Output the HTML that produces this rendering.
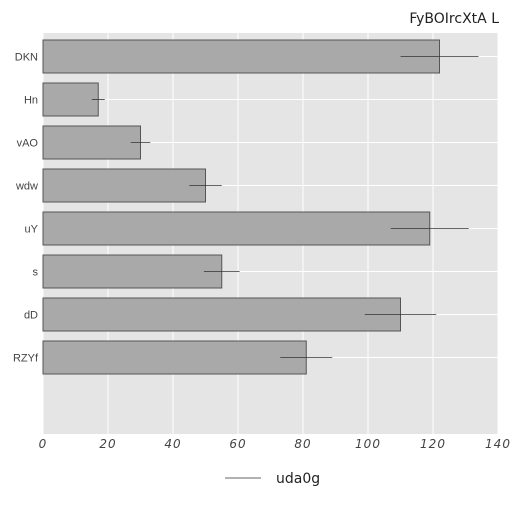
<!DOCTYPE html>
<html><head><meta charset="utf-8"><style>
body{margin:0;background:#fff;font-family:"Liberation Sans","DejaVu Sans",sans-serif}
</style></head><body>
<svg id="c" width="525" height="525" xmlns="http://www.w3.org/2000/svg">
<text x="499" y="23" text-anchor="end" font-size="14" fill="#222" font-family="DejaVu Sans, sans-serif">FyBOIrcXtA L</text>
<rect x="43" y="33" width="455" height="401" fill="#e5e5e5"/>
<g id="grid"></g><g id="bars"></g><g id="ticks"></g>
<line x1="225" y1="478" x2="261" y2="478" stroke="#333" stroke-width="0.8"/>
<text x="276" y="483" font-size="14" fill="#222" font-family="DejaVu Sans, sans-serif">uda0g</text>
</svg>
<script>
const categories=["DKN","Hn","vAO","wdw","uY","s","dD","RZYf"];
const values=[122,17,30,50,119,55,110,81];
const errors=[12,2,3,5,12,5.5,11,8];
const xTicks=[0,20,40,60,80,100,120,140];
const NS="http://www.w3.org/2000/svg";
const X0=43,X1=498,XMAX=140;
const x=v=>X0+v/XMAX*(X1-X0);
const y=i=>56.5+i*43;
function mk(t,a,p){const e=document.createElementNS(NS,t);for(const k in a)e.setAttribute(k,a[k]);p.appendChild(e);return e;}
const grid=document.getElementById('grid'),bars=document.getElementById('bars'),ticks=document.getElementById('ticks');
xTicks.forEach(t=>{
 const l=mk('line',{x1:x(t),x2:x(t),y1:33,y2:434,stroke:'#fff','stroke-width':1},grid);
 
 
 const tx=mk('text',{x:x(t),y:448,'text-anchor':'middle','font-size':12,fill:'#444','font-style':'italic','letter-spacing':'1','font-family':'DejaVu Sans, sans-serif'},ticks);
 tx.textContent=t;
 
 
});
categories.forEach((c,i)=>{
 const g=mk('line',{x1:43,x2:498,y1:y(i),y2:y(i),stroke:'#fff','stroke-width':1},grid);
 
 
 const r=mk('rect',{x:x(0),y:y(i)-16.5,width:x(values[i])-x(0),height:33,fill:'#a9a9a9',stroke:'#555','stroke-width':1},bars);
 
 
 const e=mk('line',{x1:x(values[i]-errors[i]),x2:x(values[i]+errors[i]),y1:y(i),y2:y(i),stroke:'#333','stroke-width':0.8},bars);
 
 
 const t=mk('text',{x:38,y:y(i)+4,'text-anchor':'end','font-size':11,fill:'#444'},ticks);
 t.textContent=c;
 
 
});
</script>
</body></html>
